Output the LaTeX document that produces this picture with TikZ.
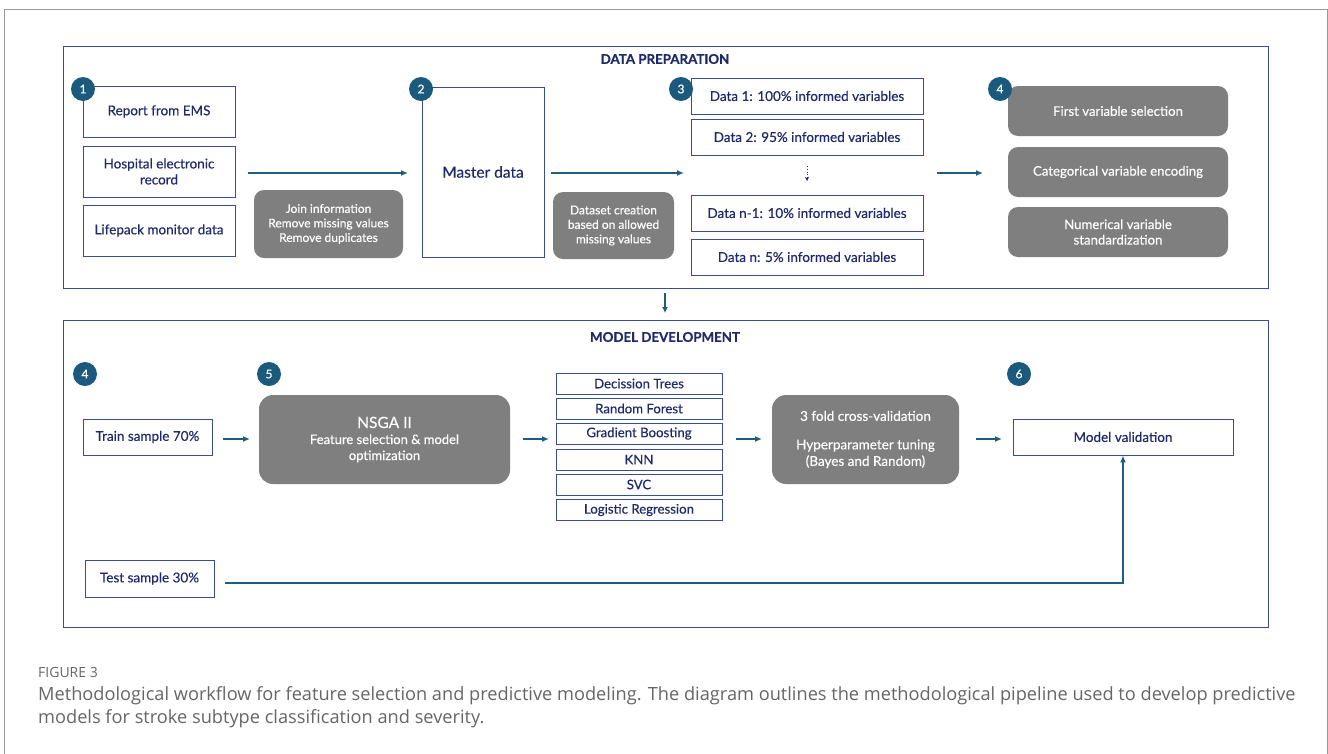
\documentclass[tikz,border=0pt]{standalone}
\usepackage{fontspec}
\setmainfont{Lato}[FakeBold=0.3]
\newfontfamily\titlefont{Lato}[FakeBold=0.6]
\newfontfamily\capfont{Open Sans}
\usetikzlibrary{arrows.meta}
\definecolor{navy}{HTML}{1F2A6B}
\definecolor{frameblue}{HTML}{3A4C94}
\definecolor{badge}{HTML}{1B5A7C}
\definecolor{arrowc}{HTML}{1B5E80}
\definecolor{graybox}{HTML}{7F7F7F}
\definecolor{capgray}{HTML}{666666}
\tikzset{
  x=1pt, y=-1pt,
  wbox/.style={draw=frameblue, line width=0.9pt, fill=white, inner sep=2pt, align=center,
     text=navy, font=\fontsize{13.5}{16}\selectfont},
  gbox/.style={fill=graybox, rounded corners=10pt, inner sep=2pt, align=center,
     text=white, font=\fontsize{12}{14.5}\selectfont},
  mbox/.style={draw=frameblue, line width=0.9pt, fill=white, inner sep=0pt, align=center,
     text=navy, font=\fontsize{13.2}{14}\selectfont, minimum width=166, minimum height=21},
  badgec/.style={circle, fill=badge, text=white, inner sep=0pt, minimum size=24pt,
     font=\fontsize{12}{12}\selectfont},
  frame/.style={draw=frameblue, line width=0.8pt},
  title/.style={text=navy, font=\titlefont\bfseries\fontsize{13.3}{15}\selectfont},
  flow/.style={draw=arrowc, line width=1.6pt, -{Latex[length=7pt,width=6pt]}},
}
\begin{document}
\begin{tikzpicture}
\useasboundingbox (0,0) rectangle (1328,753);
\fill[white] (0,0) rectangle (1328,753);
\draw[gray!80, line width=0.8pt] (4,760) -- (4,9) -- (1327,9) -- (1327,760);

% ---------- DATA PREPARATION ----------
\draw[frame] (63,46) rectangle (1268,288);
\node[title] (tdp) at (665,59) {DATA PREPARATION};

\node[wbox, minimum width=152, minimum height=51] (r1) at (159,111.5) {Report from EMS};
\node[wbox, minimum width=152, minimum height=51] (r2) at (159,171.5) {Hospital electronic\\record};
\node[wbox, minimum width=152, minimum height=51] (r3) at (159,230.5) {Lifepack monitor data};
\node[badgec] (b1) at (83,89) {1};

\node[gbox, minimum width=149, minimum height=68] (g1) at (328.5,224) {Join information\\Remove missing values\\Remove duplicates};

\node[wbox, minimum width=122, minimum height=170, font=\fontsize{15.5}{18}\selectfont] (md) at (483,172) {Master data};
\node[badgec] (b2) at (421,89) {2};

\node[gbox, minimum width=121, minimum height=67] (g2) at (613.5,225.5) {Dataset creation\\based on allowed\\missing values};

\node[wbox, minimum width=232, minimum height=36] (d1) at (807,96) {Data 1: 100\% informed variables};
\node[wbox, minimum width=232, minimum height=36] (d2) at (807,137) {Data 2: 95\% informed variables};
\node[wbox, minimum width=232, minimum height=36] (d3) at (807,213) {Data n-1: 10\% informed variables};
\node[wbox, minimum width=232, minimum height=36] (d4) at (807,257) {Data n: 5\% informed variables};
\node[badgec] (b3) at (681,89) {3};
\coordinate (dt) at (807,166);
\coordinate (db) at (807,181);
\draw[navy, line width=0.8pt, dotted, -{Stealth[length=4pt,width=4pt]}] (dt) -- (db);

\node[gbox, minimum width=220, minimum height=50, font=\fontsize{13.2}{15.5}\selectfont] (p1) at (1118,111) {First variable selection};
\node[gbox, minimum width=220, minimum height=50, font=\fontsize{13.2}{15.5}\selectfont] (p2) at (1118,172) {Categorical variable encoding};
\node[gbox, minimum width=220, minimum height=50, font=\fontsize{13.2}{15.5}\selectfont] (p3) at (1118,232) {Numerical variable\\standardization};
\node[badgec] (b4) at (1000,89) {4};

\coordinate (a1s) at (248,173);
\coordinate (a1e) at (408,173);
\coordinate (a2s) at (551,173);
\coordinate (a2e) at (684,173);
\coordinate (a3s) at (937,173);
\coordinate (a3e) at (983,173);
\draw[flow] (a1s) -- (a1e);
\draw[flow] (a2s) -- (a2e);
\draw[flow] (a3s) -- (a3e);

% ---------- connector between frames ----------
\coordinate (dn1) at (665,293);
\coordinate (dn2) at (665,313);
\draw[flow, line width=1.4pt, -{Latex[length=6pt,width=6pt]}] (dn1) -- (dn2);

% ---------- MODEL DEVELOPMENT ----------
\draw[frame] (63,320) rectangle (1268,627);
\node[title] (tmd) at (665,337) {MODEL DEVELOPMENT};

\node[badgec] (b4b) at (85,374) {4};
\node[badgec] (b5) at (269,374) {5};
\node[badgec] (b6) at (1019,374) {6};

\node[wbox, minimum width=129, minimum height=36] (tr) at (147.5,437) {Train sample 70\%};
\node[gbox, rounded corners=14pt, minimum width=251, minimum height=89, font=\fontsize{13}{16}\selectfont] (ns) at (384.5,439.5) {{\fontsize{15.5}{18}\selectfont NSGA II}\\Feature selection \& model\\optimization};

\node[mbox] (m1) at (639,383.5) {Decission Trees};
\node[mbox] (m2) at (639,408.5) {Random Forest};
\node[mbox] (m3) at (639,433.5) {Gradient Boosting};
\node[mbox] (m4) at (639,459.5) {KNN};
\node[mbox] (m5) at (639,484.5) {SVC};
\node[mbox] (m6) at (639,510) {Logistic Regression};

\node[gbox, rounded corners=14pt, minimum width=187, minimum height=89, font=\fontsize{13.5}{16.5}\selectfont] (cv) at (865.5,439.5) {3 fold cross-validation\\[12pt]Hyperparameter tuning\\(Bayes and Random)};

\node[wbox, minimum width=220, minimum height=36] (mv) at (1123,437) {Model validation};
\node[wbox, minimum width=129, minimum height=37] (ts) at (149.5,578.5) {Test sample 30\%};

\coordinate (f1s) at (223,439);
\coordinate (f1e) at (250,439);
\coordinate (f2s) at (523,439);
\coordinate (f2e) at (549,439);
\coordinate (f3s) at (736,439);
\coordinate (f3e) at (762,439);
\coordinate (f4s) at (976,439);
\coordinate (f4e) at (1002,439);
\draw[flow] (f1s) -- (f1e);
\draw[flow] (f2s) -- (f2e);
\draw[flow] (f3s) -- (f3e);
\draw[flow] (f4s) -- (f4e);

\coordinate (ts2) at (225,583);
\coordinate (corner) at (1123,583);
\draw[flow, line width=1.5pt] (ts2) -- (corner) -- (mv.south);

% ---------- caption ----------
\node[anchor=west, text=capgray, font=\capfont\fontsize{14}{16}\selectfont, inner sep=0pt] (fig) at (38,672) {FIGURE 3};
\node[anchor=north west, text=capgray, font=\capfont\fontsize{18.2}{23}\selectfont, inner sep=0pt, align=left] (cap) at (38,686) {Methodological workflow for feature selection and predictive modeling. The diagram outlines the methodological pipeline used to develop predictive\\models for stroke subtype classification and severity.};
\end{tikzpicture}
\end{document}
